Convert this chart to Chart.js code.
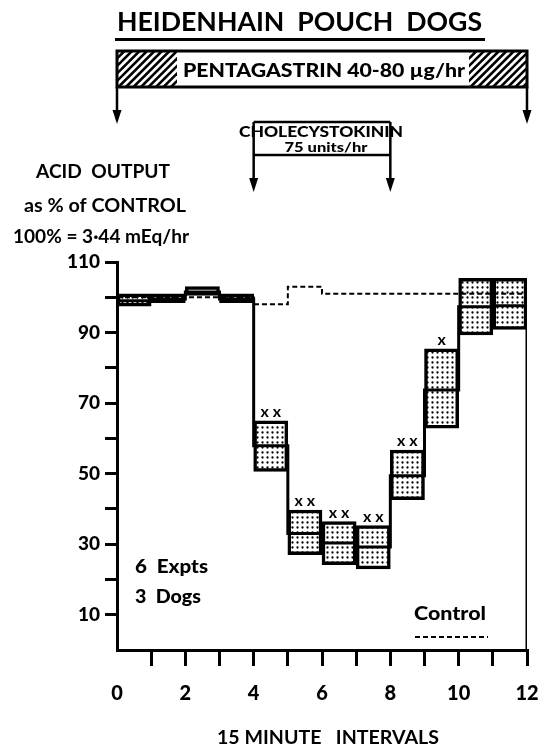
<!DOCTYPE html>
<html>
<head>
<meta charset="utf-8">
<script src="https://cdn.jsdelivr.net/npm/chart.js@4.4.0/dist/chart.umd.min.js"></script>
<style>
  body { margin: 0; background: #fff; }
  canvas { display: block; }
</style>
</head>
<body>
<canvas id="myChart" width="538" height="745"></canvas>
<script>
// 15 minute intervals, mean and SE band of acid output (% of control)
const intervals = [0, 1, 2, 3, 4, 5, 6, 7, 8, 9, 10, 11]
const meanValues = [99, 99.5, 101.5, 99.5, 57.9, 33, 30.3, 29.2, 49.4, 73.7, 97.3, 97.6]
const lowValues = [97.5, 98.5, 100.5, 98.5, 50.6, 27, 24.2, 23, 42.6, 62.9, 89.3, 90.9]
const highValues = [101, 101, 103, 101, 65, 39.7, 36.4, 35.3, 56.7, 85.4, 105.4, 105.4]
const controlValues = [100, 100, 100, 100, 98, 103, 101, 101, 101, 101, 101, 101]
const significance = ["", "", "", "", "x x", "x x", "x x", "x x", "x x", "x", "", ""]
const xTickLabels = [0, 2, 4, 6, 8, 10, 12]
const yTickLabels = [10, 30, 50, 70, 90, 110]

const FONT = 'Lato, "Open Sans", sans-serif'

// dotted fill for the boxes
function stipple() {
  const c = document.createElement("canvas")
  c.width = 5
  c.height = 5
  const g = c.getContext("2d")
  g.fillStyle = "#fff"
  g.fillRect(0, 0, 5, 5)
  g.fillStyle = "#000"
  g.beginPath()
  g.arc(2.5, 2.5, 1.15, 0, Math.PI * 2)
  g.fill()
  return g.createPattern(c, "repeat")
}

function text(ctx, str, cx, cy, size, weight, width, align) {
  ctx.save()
  ctx.font = weight + " " + size + "px " + FONT
  ctx.textAlign = align || "center"
  ctx.textBaseline = "middle"
  ctx.fillStyle = "#000"
  ctx.translate(cx, cy)
  if (width) {
    ctx.scale(width / ctx.measureText(str).width, 1)
  }
  ctx.fillText(str, 0, 0)
  ctx.restore()
}

function arrow(ctx, x, y1, y2) {
  ctx.save()
  ctx.strokeStyle = "#000"
  ctx.fillStyle = "#000"
  ctx.lineWidth = 2.5
  ctx.beginPath()
  ctx.moveTo(x, y1)
  ctx.lineTo(x, y2 - 10)
  ctx.stroke()
  ctx.beginPath()
  ctx.moveTo(x - 4.5, y2 - 14)
  ctx.lineTo(x + 4.5, y2 - 14)
  ctx.lineTo(x, y2)
  ctx.closePath()
  ctx.fill()
  ctx.restore()
}

function hatch(ctx, x1, x2, y1, y2) {
  ctx.save()
  ctx.beginPath()
  ctx.rect(x1, y1, x2 - x1, y2 - y1)
  ctx.clip()
  ctx.strokeStyle = "#000"
  ctx.lineWidth = 2.6
  const h = y2 - y1
  for (let s = x1 - h; s < x2 + h; s += 7.5) {
    ctx.beginPath()
    ctx.moveTo(s, y2)
    ctx.lineTo(s + h, y1)
    ctx.stroke()
  }
  ctx.restore()
}

const extras = {
  id: "extras",
  afterDatasetsDraw(chart) {
    const ctx = chart.ctx
    const xs = chart.scales.x
    const ys = chart.scales.y
    intervals.forEach((i) => {
      if (significance[i]) {
        text(ctx, significance[i], xs.getPixelForValue(i + 0.5), ys.getPixelForValue(highValues[i]) - 9, 16, "bold")
      }
    })
  },
  afterDraw(chart) {
    const ctx = chart.ctx
    const xs = chart.scales.x
    const left = xs.getPixelForValue(0)
    const right = xs.getPixelForValue(12)
    const c1 = xs.getPixelForValue(4)
    const c2 = xs.getPixelForValue(8)

    // title
    text(ctx, "HEIDENHAIN  POUCH  DOGS", 299.5, 23, 26, "bold", 365)
    ctx.fillStyle = "#000"
    ctx.fillRect(115, 38, 370, 3)

    // pentagastrin bar
    hatch(ctx, left, left + 60, 51, 87)
    hatch(ctx, right - 58, right, 51, 87)
    ctx.save()
    ctx.strokeStyle = "#000"
    ctx.lineWidth = 3
    ctx.strokeRect(left, 51, right - left, 36)
    ctx.restore()
    text(ctx, "PENTAGASTRIN 40-80 \u00b5g/hr", 324, 71, 19, "900", 282)
    arrow(ctx, left, 87, 124)
    arrow(ctx, right, 87, 124)

    // cholecystokinin bracket
    ctx.save()
    ctx.strokeStyle = "#000"
    ctx.lineWidth = 2.5
    ctx.beginPath()
    ctx.moveTo(c1, 122)
    ctx.lineTo(c2, 122)
    ctx.moveTo(c1, 155)
    ctx.lineTo(c2, 155)
    ctx.stroke()
    ctx.restore()
    arrow(ctx, c1, 122, 192)
    arrow(ctx, c2, 122, 192)
    text(ctx, "CHOLECYSTOKININ", 321, 132, 15, "900", 164)
    text(ctx, "75 units/hr", 326, 147, 14, "900", 83)

    // y axis title
    text(ctx, "ACID  OUTPUT", 103, 172, 19, "bold", 134)
    text(ctx, "as % of CONTROL", 105, 206, 19, "bold", 162)
    text(ctx, "100% = 3\u00b744 mEq/hr", 101, 237, 19, "bold", 176)

    // notes and legend
    text(ctx, "6  Expts", 135, 567, 18, "900", 73, "left")
    text(ctx, "3  Dogs", 135, 597, 18, "900", 66, "left")
    text(ctx, "Control", 450, 614, 18, "900", 72)
    ctx.save()
    ctx.strokeStyle = "#000"
    ctx.lineWidth = 2
    ctx.setLineDash([5, 3])
    ctx.beginPath()
    ctx.moveTo(415, 637)
    ctx.lineTo(488, 637)
    ctx.stroke()
    ctx.restore()

    // x axis title
    text(ctx, "15 MINUTE   INTERVALS", 328, 738, 18, "bold", 222)
  }
}

const steps = (vals) => intervals.map((i) => ({ x: i, y: vals[i] })).concat([{ x: 12, y: vals[vals.length - 1] }])

const ctx = document.getElementById("myChart")
new Chart(ctx, {
  data: {
    datasets: [
      {
        type: "line",
        label: "Control",
        data: steps(controlValues),
        stepped: "before",
        borderColor: "#000",
        borderWidth: 2,
        borderDash: [5, 3],
        pointRadius: 0,
        order: 0
      },
      {
        type: "line",
        label: "Mean",
        data: steps(meanValues),
        stepped: "before",
        borderColor: "#000",
        borderWidth: 3,
        pointRadius: 0,
        order: 1
      },
      {
        type: "line",
        label: "Drop",
        data: [{ x: 12, y: highValues[11] }, { x: 12, y: 0 }],
        borderColor: "#000",
        borderWidth: 3,
        pointRadius: 0,
        order: 1
      },
      {
        type: "bar",
        label: "SE",
        data: intervals.map((i) => ({ x: i + 0.5, y: [lowValues[i], highValues[i]] })),
        backgroundColor: stipple(),
        borderColor: "#000",
        borderWidth: 3.5,
        borderSkipped: false,
        barPercentage: 1,
        categoryPercentage: 1,
        order: 2
      }
    ]
  },
  options: {
    responsive: false,
    animation: false,
    layout: { padding: { top: 262, right: 11, left: 0, bottom: 0 } },
    plugins: { legend: { display: false }, tooltip: { enabled: false } },
    scales: {
      x: {
        type: "linear",
        min: 0,
        max: 12,
        offset: false,
        grid: {
          offset: false,
          drawOnChartArea: false,
          tickLength: 16,
          lineWidth: 3,
          color: (c) => (c.tick && c.tick.value === 0 ? "rgba(0,0,0,0)" : "#000")
        },
        border: { color: "#000", width: 3 },
        ticks: {
          stepSize: 1,
          autoSkip: false,
          maxRotation: 0,
          padding: 16,
          color: "#000",
          font: { family: FONT, size: 20, weight: "900" },
          callback: (v) => (xTickLabels.includes(v) ? v : "")
        },
        afterFit: (s) => {
          s.height = 95
          s.paddingLeft = 0
          s.paddingRight = 0
        }
      },
      y: {
        min: 0,
        max: 110,
        grid: { drawOnChartArea: false, tickLength: 12, lineWidth: 3, color: "#000" },
        border: { color: "#000", width: 3 },
        ticks: {
          stepSize: 10,
          padding: 5,
          color: "#000",
          font: { family: FONT, size: 19, weight: "900" },
          callback: (v) => (yTickLabels.includes(v) ? v : "")
        },
        afterBuildTicks: (s) => {
          s.ticks = s.ticks.filter((t) => t.value > 0)
        },
        afterFit: (s) => {
          s.width = 117
          s.paddingTop = 0
          s.paddingBottom = 0
        }
      }
    }
  },
  plugins: [extras]
})
</script>
</body>
</html>
